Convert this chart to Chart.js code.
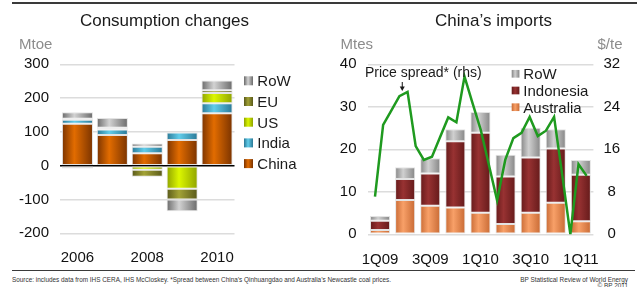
<!DOCTYPE html>
<html>
<head>
<meta charset="utf-8">
<script src="https://cdn.jsdelivr.net/npm/chart.js@4.4.1/dist/chart.umd.min.js"></script>
<style>
  body { margin: 0; background: #fff; font-family: "Liberation Sans", Arial, sans-serif; }
  #page { position: relative; width: 637px; height: 287px; overflow: hidden; }
  .pane { position: absolute; top: 0; height: 270px; }
  .txt { position: absolute; white-space: nowrap; color: #1a1a1a; }
  .title { font-size: 17px; line-height: 20px; top: 11.4px; width: 220px; text-align: center; }
  .unit { font-size: 15px; line-height: 18px; top: 35px; color: #8c8c8c; }
  .rule { position: absolute; height: 1.5px; background: #3a3a3a; }
  .foot { font-size: 6.4px; line-height: 8px; color: #333; }
</style>
</head>
<body>
<div id="page">
  <div class="rule" style="left:12px; top:2px; width:625px;"></div>

  <div class="pane" style="left:0; width:318px;"><canvas id="consChart"></canvas></div>
  <div class="pane" style="left:318px; width:319px;"><canvas id="importChart"></canvas></div>

  <div class="txt title" style="left:54.5px;">Consumption changes</div>
  <div class="txt title" style="left:383.5px;">China’s imports</div>
  <div class="txt unit" style="left:19px;">Mtoe</div>
  <div class="txt unit" style="left:340.5px;">Mtes</div>
  <div class="txt unit" style="left:597.5px;">$/te</div>

  <div class="rule" style="left:12px; top:269.5px; width:623px;"></div>
  <div class="txt foot" style="left:12px; top:276px;">Source: includes data from IHS CERA, IHS McCloskey. *Spread between China’s Qinhuangdao and Australia’s Newcastle coal prices.</div>
  <div class="txt foot" style="right:9px; top:275.5px; text-align:right;">BP Statistical Review of World Energy</div>
  <div class="txt foot" style="right:9px; top:282px; text-align:right;">© BP 2011</div>
</div>

<script>
// --- consumption changes (Mtoe) ---
const years = ['2006', '2007', '2008', '2009', '2010'];
const chinaCons = [124, 91, 37, 76, 155];
const indiaCons = [12, 16, 19, 22, 30];
const usCons = [-8, 4, -12, -68, 30];
const euCons = [3, 1, -21, -32, 8];
const rowCons = [19, 29, 10, -35, 29];

// --- China's imports (Mtes) by quarter ---
const quarters = ['1Q09', '2Q09', '3Q09', '4Q09', '1Q10', '2Q10', '3Q10', '4Q10', '1Q11'];
const australiaImp = [1.0, 8.1, 6.7, 6.3, 5.1, 2.4, 5.1, 7.4, 3.1];
const indonesiaImp = [2.2, 4.9, 7.6, 15.6, 18.8, 11.2, 13.0, 12.8, 10.9];
const rowImp = [1.1, 2.8, 3.6, 2.8, 4.9, 5.1, 7.0, 4.5, 3.5];

// price spread ($/te), monthly Jan 09 - Mar 11
const months = ['Jan09', 'Feb09', 'Mar09', 'Apr09', 'May09', 'Jun09', 'Jul09', 'Aug09', 'Sep09',
  'Oct09', 'Nov09', 'Dec09', 'Jan10', 'Feb10', 'Mar10', 'Apr10', 'May10', 'Jun10',
  'Jul10', 'Aug10', 'Sep10', 'Oct10', 'Nov10', 'Dec10', 'Jan11', 'Feb11', 'Mar11'];
const priceSpread = [7.1, 20.6, 23.3, 26.0, 26.8, 16.6, 14.0, 14.6, 18.3,
  22.0, 21.1, 29.7, 24.6, 19.6, 13.0, 6.4, 14.0, 18.1,
  19.1, 22.1, 18.5, 19.5, 22.1, 11.2, 0, 13.2, 11.0];

const FONT = '"Liberation Sans", Arial, sans-serif';

// cylinder-like shading across each bar
function shaded(stops, pct) {
    return function (c) {
        const chart = c.chart;
        if (c.type !== 'data' || !chart.chartArea) return stops[1];
        const xs = chart.scales.x;
        const half = (xs.right - xs.left) / xs.getLabels().length * pct / 2;
        const cx = xs.getPixelForValue(c.dataIndex);
        const g = chart.ctx.createLinearGradient(cx - half, 0, cx + half, 0);
        g.addColorStop(0, stops[0]);
        g.addColorStop(0.4, stops[1]);
        g.addColorStop(1, stops[2]);
        return g;
    };
}

// small legend drawn at fixed spots, top item = last bar dataset
const boxLegend = {
    id: 'boxLegend',
    afterDraw(chart, args, o) {
        const ctx = chart.ctx;
        const items = chart.data.datasets.filter(d => d.type !== 'line').slice().reverse();
        ctx.save();
        ctx.font = o.size + 'px ' + FONT;
        ctx.textBaseline = 'alphabetic';
        items.forEach((d, i) => {
            const cy = o.y + i * o.step;
            const g = ctx.createLinearGradient(o.x, 0, o.x + o.box, 0);
            g.addColorStop(0, d.shade[0]);
            g.addColorStop(0.45, d.shade[1]);
            g.addColorStop(1, d.shade[2]);
            ctx.fillStyle = g;
            ctx.fillRect(o.x, cy - o.box / 2, o.box, o.box);
            ctx.fillStyle = '#1a1a1a';
            ctx.fillText(d.label, o.textX, cy + o.size * 0.358);
        });
        ctx.restore();
    }
};

function barSet(label, data, shade, pct) {
    return {
        label: label,
        data: data,
        shade: shade,
        backgroundColor: shaded(shade, pct),
        borderColor: 'rgba(225,225,225,0.95)',
        borderWidth: 1,
        borderSkipped: false,
        grouped: false,
        barPercentage: pct,
        categoryPercentage: 1,
        order: 1
    };
}

const tickFont = { family: FONT, size: 15 };

// 소비 변화 차트
new Chart(document.getElementById('consChart').getContext('2d'), {
    type: 'bar',
    data: {
        labels: years,
        datasets: [
            barSet('China', chinaCons, ['#7a3300', '#e26c00', '#7a3300'], 0.89),
            barSet('India', indiaCons, ['#2a7896', '#62cdea', '#2a7896'], 0.89),
            barSet('US', usCons, ['#8fa300', '#dcf700', '#8fa300'], 0.89),
            barSet('EU', euCons, ['#58581a', '#a3a336', '#58581a'], 0.89),
            barSet('RoW', rowCons, ['#6a6a6a', '#d2d2d2', '#6a6a6a'], 0.89)
        ]
    },
    options: {
        responsive: true,
        maintainAspectRatio: false,
        animation: false,
        layout: { padding: { top: 64.3, right: 83.5, left: 0, bottom: 0 } },
        plugins: {
            legend: { display: false },
            tooltip: { enabled: false },
            boxLegend: { x: 244, textX: 257.3, y: 80.8, step: 20.7, box: 9, size: 15 }
        },
        scales: {
            x: {
                stacked: true,
                grid: { display: false, drawTicks: false },
                border: { display: false },
                ticks: {
                    autoSkip: false, maxRotation: 0, padding: 16, color: '#111', font: tickFont,
                    callback: (v, i) => (i % 2 ? '' : years[i])
                },
                afterFit: s => { s.height = 36.7; }
            },
            y: {
                stacked: true,
                min: -200,
                max: 300,
                ticks: { stepSize: 100, padding: 11, color: '#111', font: tickFont },
                grid: {
                    drawTicks: false,
                    lineWidth: 1.5,
                    color: c => (c.tick && c.tick.value === 0 ? '#000' : '#dcdcdc')
                },
                border: { display: false },
                afterFit: s => { s.width = 60; }
            }
        }
    },
    plugins: [boxLegend]
});

// 중국 수입 차트
new Chart(document.getElementById('importChart').getContext('2d'), {
    type: 'bar',
    data: {
        labels: quarters,
        datasets: [
            barSet('Australia', australiaImp, ['#c86a34', '#f8a068', '#c86a34'], 0.8),
            barSet('Indonesia', indonesiaImp, ['#641a1a', '#983232', '#641a1a'], 0.8),
            barSet('RoW', rowImp, ['#858585', '#d0d0d0', '#858585'], 0.8),
            {
                type: 'line',
                label: 'Price spread* (rhs)',
                data: priceSpread.map((v, i) => ({ x: i, y: v })),
                xAxisID: 'xl',
                yAxisID: 'y2',
                borderColor: '#1f9a1f',
                borderWidth: 2.5,
                pointRadius: 0,
                tension: 0,
                order: 0
            }
        ]
    },
    options: {
        responsive: true,
        maintainAspectRatio: false,
        animation: false,
        layout: { padding: { top: 64.3, right: 0, left: 0, bottom: 0 } },
        plugins: {
            legend: { display: false },
            tooltip: { enabled: false },
            boxLegend: { x: 193.7, textX: 205.3, y: 73.8, step: 16.7, box: 7.7, size: 15 }
        },
        scales: {
            x: {
                stacked: true,
                grid: { display: false, drawTicks: false },
                border: { display: false },
                ticks: {
                    autoSkip: false, maxRotation: 0, padding: 16.5, color: '#111', font: tickFont,
                    callback: (v, i) => (i % 2 ? '' : quarters[i])
                },
                afterFit: s => { s.height = 35.7; }
            },
            xl: {
                type: 'linear',
                position: 'bottom',
                offset: false,
                min: -0.92,
                max: 26.83,
                ticks: { display: false },
                grid: { display: false, drawTicks: false },
                border: { display: false },
                afterFit: s => { s.height = 0; }
            },
            y: {
                position: 'left',
                stacked: true,
                min: 0,
                max: 40,
                ticks: { stepSize: 10, padding: 11, color: '#111', font: tickFont },
                grid: { drawTicks: false, lineWidth: 1.5, color: '#dcdcdc' },
                border: { display: false },
                afterFit: s => { s.width = 49.5; }
            },
            y2: {
                position: 'right',
                min: 0,
                max: 32,
                ticks: { stepSize: 8, padding: 10, crossAlign: 'center', color: '#111', font: tickFont },
                grid: { display: false, drawTicks: false },
                border: { display: false },
                afterFit: s => { s.width = 43.6; }
            }
        }
    },
    plugins: [boxLegend,
        {
            // annotation arrow + label for the price spread line
            id: 'spreadNote',
            afterDraw(chart) {
                const ctx = chart.ctx;
                const line = chart.data.datasets.find(d => d.type === 'line');
                const px = chart.scales.xl.getPixelForValue(3.35);
                ctx.save();
                ctx.font = '14px ' + FONT;
                ctx.fillStyle = '#1a1a1a';
                ctx.textBaseline = 'alphabetic';
                ctx.fillText(line.label, 47, 76.5);
                ctx.strokeStyle = '#111';
                ctx.lineWidth = 1;
                ctx.beginPath();
                ctx.moveTo(px, 82);
                ctx.lineTo(px, 88);
                ctx.stroke();
                ctx.beginPath();
                ctx.moveTo(px - 2.5, 86.5);
                ctx.lineTo(px + 2.5, 86.5);
                ctx.lineTo(px, 91);
                ctx.closePath();
                ctx.fill();
                ctx.restore();
            }
        }
    ]
});
</script>
</body>
</html>
